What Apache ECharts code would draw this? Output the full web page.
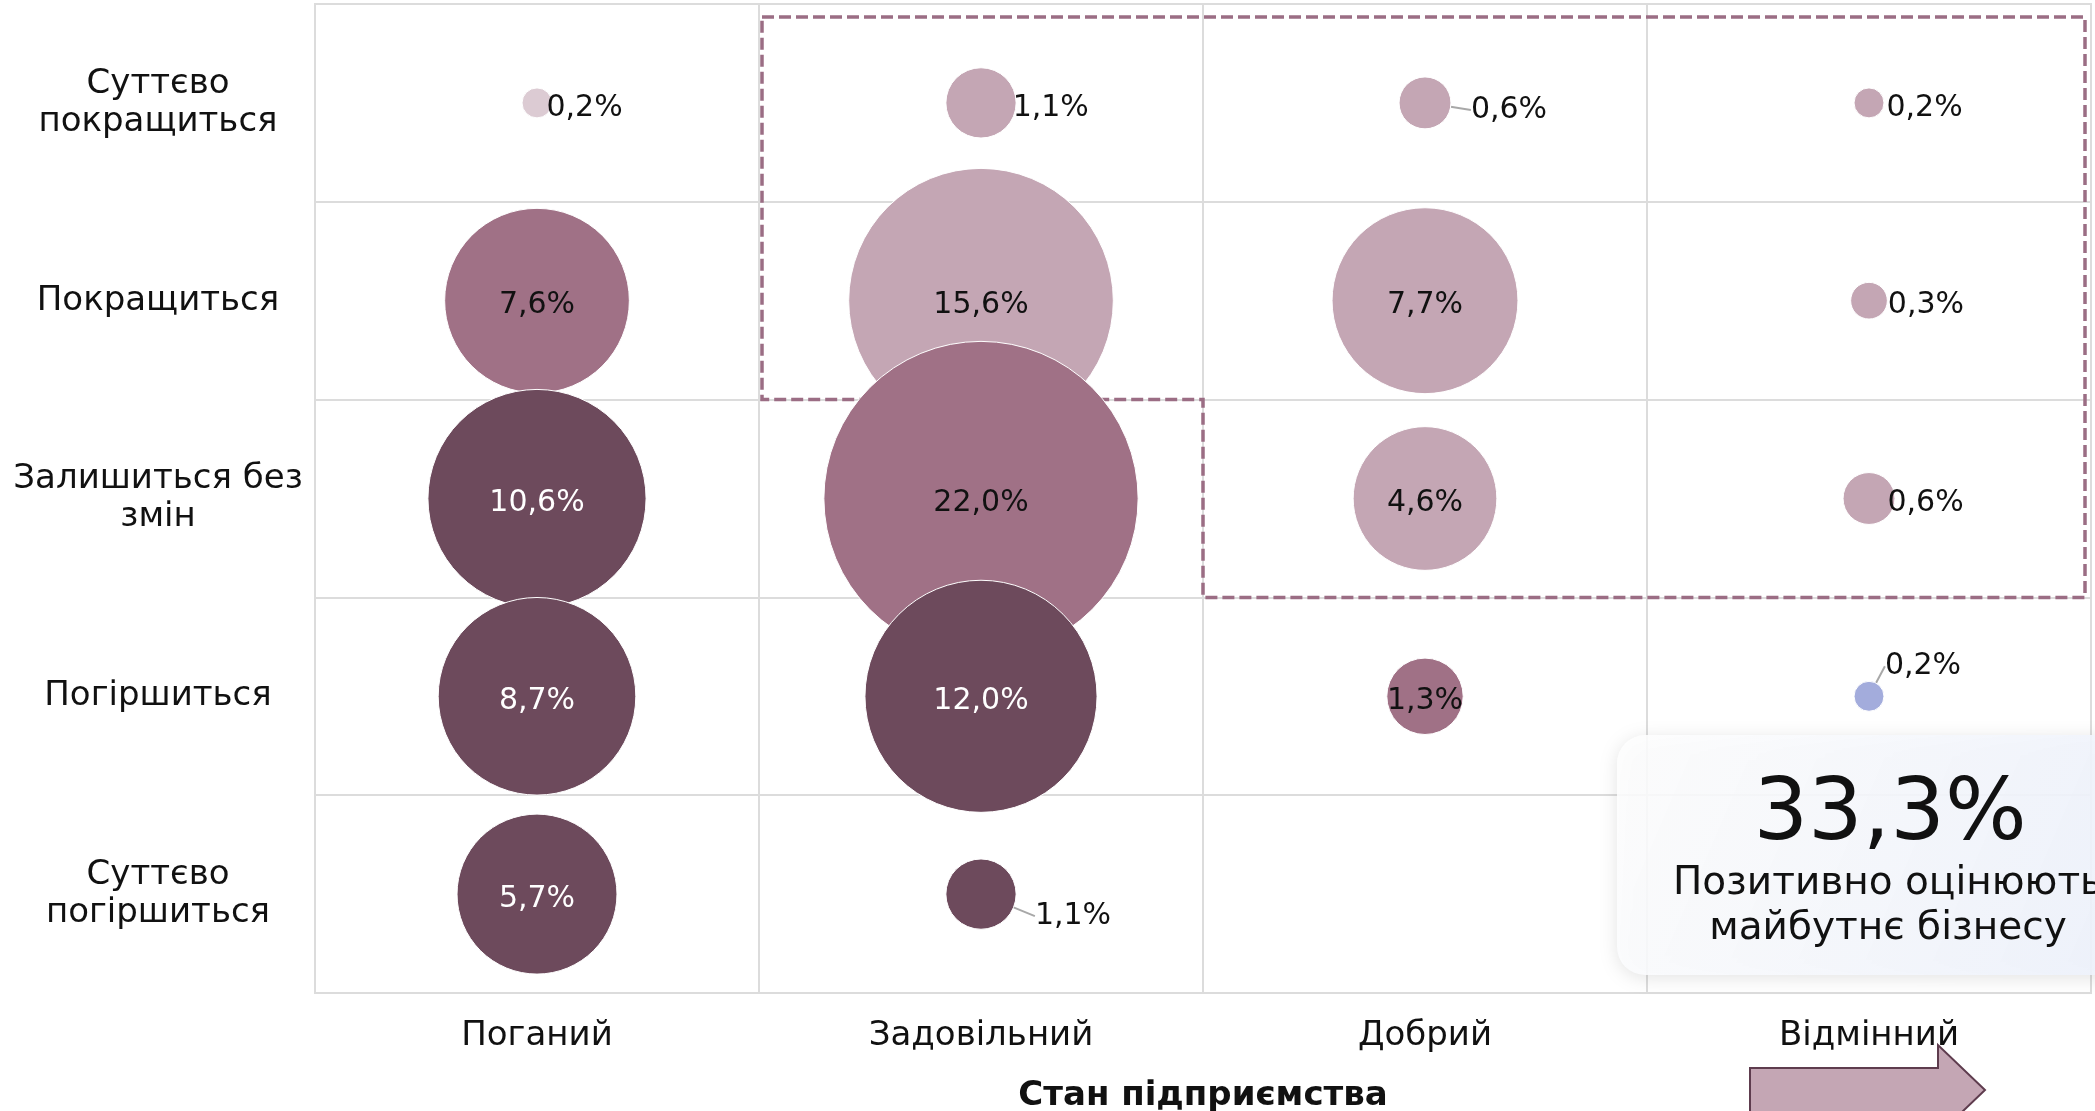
<!DOCTYPE html>
<html>
<head>
<meta charset="utf-8">
<script src="https://cdn.jsdelivr.net/npm/echarts@6/dist/echarts.min.js"></script>
<style>
  html, body { margin: 0; padding: 0; background: #fff; }
  #chart { width: 2095px; height: 1111px; }
</style>
</head>
<body>
<div id="chart"></div>
<script>
// стан підприємства (вісь X) і очікування (вісь Y, зверху вниз)
const states = ['Поганий', 'Задовільний', 'Добрий', 'Відмінний']
const outlooks = ['Суттєво\nпокращиться', 'Покращиться', 'Залишиться без\nзмін', 'Погіршиться', 'Суттєво\nпогіршиться']

// частки підприємств, % (по рядках outlooks)
const poor = [0.2, 7.6, 10.6, 8.7, 5.7]
const satisfactory = [1.1, 15.6, 22.0, 12.0, 1.1]
const good = [0.6, 7.7, 4.6, 1.3, null]
const excellent = [0.2, 0.3, 0.6, 0.2, null]

const positiveShare = '33,3%'
const positiveText = 'Позитивно оцінюють\nмайбутнє бізнесу'

const FONT = 'DejaVu Sans'
const LIGHT = '#c4a6b4'
const MID = '#a07186'
const DARK = '#6d4a5c'
// колір кожної клітинки: [стовпець][рядок]
const tones = [
  ['#dccbd3', MID, DARK, DARK, DARK],
  [LIGHT, LIGHT, MID, DARK, DARK],
  [LIGHT, LIGHT, LIGHT, MID, null],
  [LIGHT, LIGHT, LIGHT, '#a3acdc', null],
]
// зсуви підписів для дрібних бульбашок
const labelTweaks = {
  '0-0': { position: 'right', distance: -6 },
  '1-0': { position: 'right', distance: -4 },
  '2-0': { dx: 84, dy: 7, line: true },
  '3-0': { position: 'right', distance: 2 },
  '3-1': { position: 'right', distance: 0 },
  '3-2': { position: 'right', distance: -8 },
  '3-3': { dx: 54, dy: -30, line: true },
  '1-4': { dx: 92, dy: 22, line: true },
}

const fmt = v => v.toFixed(1).replace('.', ',') + '%'

const columns = [poor, satisfactory, good, excellent]
const points = []
const tweaks = []
// по рядках, щоб нижні бульбашки лягали поверх верхніх
outlooks.forEach((_, row) => {
  columns.forEach((col, ci) => {
    const v = col[row]
    if (v == null) return
    const t = labelTweaks[ci + '-' + row] || {}
    const color = tones[ci][row]
    const outside = t.position || t.dx != null
    const item = {
      value: [ci, row, v],
      itemStyle: { color: color },
      label: { color: color === DARK && !outside ? '#fff' : '#111' },
    }
    if (t.position) {
      item.label.position = t.position
      item.label.distance = t.distance
    }
    if (t.line) item.labelLine = { show: true }
    points.push(item)
    tweaks.push(t)
  })
})

const chart = echarts.init(document.getElementById('chart'))

chart.setOption({
  animation: false,
  grid: {
    left: 315, right: 4, top: 4, bottom: 118,
    outerBoundsMode: 'none',
    show: true, borderColor: '#dcdcdc', borderWidth: 2,
  },
  xAxis: {
    type: 'category',
    data: states,
    name: 'Стан підприємства',
    nameLocation: 'middle',
    nameGap: 86,
    nameTextStyle: { fontFamily: FONT, fontSize: 34, fontWeight: 'bold', color: '#111' },
    axisLine: { lineStyle: { color: '#dcdcdc', width: 2 } },
    axisTick: { show: false },
    axisLabel: { fontFamily: FONT, fontSize: 34, color: '#111', margin: 26 },
    splitLine: { show: true, lineStyle: { color: '#dcdcdc', width: 2 } },
  },
  yAxis: {
    type: 'category',
    data: outlooks,
    inverse: true,
    axisLine: { lineStyle: { color: '#dcdcdc', width: 2 } },
    axisTick: { show: false },
    axisLabel: {
      fontFamily: FONT, fontSize: 34, color: '#111',
      align: 'center', margin: 157, lineHeight: 38,
    },
    splitLine: { show: true, lineStyle: { color: '#dcdcdc', width: 2 } },
  },
  series: [
    {
      // пунктирна рамка навколо позитивних оцінок
      type: 'custom',
      z: 1,
      silent: true,
      data: [[0, 0]],
      renderItem: (params, api) => {
        const [w, h] = api.size([1, 1])
        const x1 = api.coord([1, 0])[0] - w / 2 + 3
        const x2 = api.coord([2, 0])[0] - w / 2
        const x4 = api.coord([3, 0])[0] + w / 2 - 6
        const y0 = api.coord([0, 0])[1] - h / 2 + 13
        const y2 = api.coord([0, 1])[1] + h / 2
        const y3 = api.coord([0, 2])[1] + h / 2
        return {
          type: 'polygon',
          shape: { points: [[x1, y0], [x4, y0], [x4, y3], [x2, y3], [x2, y2], [x1, y2]] },
          style: { fill: 'none', stroke: '#9b6d84', lineWidth: 3.5, lineDash: [12, 5] },
        }
      },
    },
    {
      type: 'scatter',
      z: 3,
      data: points,
      symbolSize: d => 67 * Math.sqrt(d[2]),
      itemStyle: { opacity: 1, borderColor: '#fff', borderWidth: 1 },
      label: {
        show: true,
        position: 'inside',
        fontFamily: FONT,
        fontSize: 30,
        formatter: p => fmt(p.value[2]),
      },
      labelLine: { show: false, lineStyle: { color: '#a8a8a8', width: 2 } },
      labelLayout: p => {
        const t = tweaks[p.dataIndex]
        return t && t.dx != null ? { dx: t.dx, dy: t.dy } : { dy: 5 }
      },
    },
  ],
  graphic: [
    {
      type: 'rect',
      z: 10,
      shape: { x: 1617, y: 735, width: 560, height: 240, r: 28 },
      style: {
        fill: new echarts.graphic.LinearGradient(0, 0, 1, 1, [
          { offset: 0, color: 'rgba(255,255,255,0.88)' },
          { offset: 1, color: 'rgba(236,241,252,0.92)' },
        ]),
        shadowBlur: 18,
        shadowColor: 'rgba(0,0,0,0.12)',
        shadowOffsetY: 3,
      },
    },
    {
      type: 'text',
      z: 11,
      x: 1890, y: 817,
      style: {
        text: positiveShare, fontFamily: FONT, fontSize: 86, fill: '#111',
        align: 'center', verticalAlign: 'middle',
      },
    },
    {
      type: 'text',
      z: 11,
      x: 1888, y: 906,
      style: {
        text: positiveText, fontFamily: FONT, fontSize: 39, lineHeight: 45, fill: '#111',
        align: 'center', verticalAlign: 'middle',
      },
    },
    {
      // стрілка під віссю
      type: 'polygon',
      z: 10,
      shape: { points: [[1750, 1068], [1938, 1068], [1938, 1045], [1985, 1090], [1938, 1135], [1938, 1112], [1750, 1112]] },
      style: { fill: '#c4a6b4', stroke: '#5e3c4e', lineWidth: 2 },
    },
  ],
})
</script>
</body>
</html>
